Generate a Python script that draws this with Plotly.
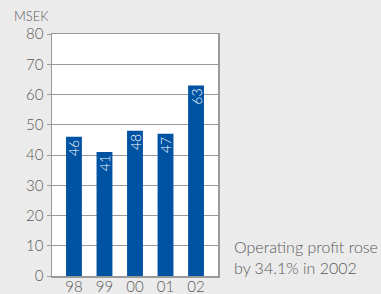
import plotly.graph_objects as go

years = ["98", "99", "00", "01", "02"]
profit = [46, 41, 48, 47, 63]
y_ticks = [0, 10, 20, 30, 40, 50, 60, 70, 80]

bar_color = "#0052a3"
grey_text = "#5a5a5a"
axis_col = "#9a9a9a"
bg = "#ebebeb"
font_fam = "Lato, 'Open Sans', sans-serif"

fig = go.Figure()
fig.add_trace(go.Bar(
    x=list(range(len(years))), y=profit,
    marker=dict(color=bar_color, line=dict(width=0)),
    width=0.52,
    text=[str(v) for v in profit],
    textposition="inside", insidetextanchor="end", textangle=-90,
    textfont=dict(color="white", size=14, family=font_fam),
    cliponaxis=False, hoverinfo="skip",
))

fig.update_layout(
    width=381, height=294,
    margin=dict(l=52, r=163, t=34, b=18, autoexpand=False),
    paper_bgcolor=bg, plot_bgcolor="white",
    showlegend=False,
    uniformtext=dict(minsize=14, mode="show"),
    font=dict(family=font_fam, color=grey_text, weight=300),
    xaxis=dict(range=[-0.72, 4.72], tickmode="array",
               tickvals=list(range(len(years))), ticktext=years,
               showgrid=False, showline=True, linecolor=axis_col, linewidth=1.5,
               mirror=True, ticks="", tickfont=dict(size=15, color=grey_text, weight=300),
               ticklabelstandoff=-4,
               zeroline=False, automargin=False),
    yaxis=dict(range=[0, 80], tickmode="array", tickvals=y_ticks,
               showgrid=True, gridcolor=axis_col, gridwidth=1,
               showline=True, linecolor=axis_col, linewidth=1.5, mirror=True,
               ticks="outside", ticklen=4, tickcolor=axis_col,
               tickfont=dict(size=15, color=grey_text, weight=300), zeroline=False,
               automargin=False),
    annotations=[
        dict(text="MSEK", xref="paper", yref="paper", x=-0.238, y=1.074,
             xanchor="left", yanchor="middle", showarrow=False,
             font=dict(size=13, color=grey_text, weight=300)),
        dict(text="Operating profit rose<br>by 34.1% in 2002", xref="paper", yref="paper",
             x=1.082, y=0.0785, xanchor="left", yanchor="middle", align="left",
             showarrow=False, font=dict(size=16, color=grey_text, weight=300)),
    ],
)

fig.write_html(
    "out.html",
    config={"displayModeBar": False, "staticPlot": True},
    post_script="document.body.style.margin='0';document.body.style.background='%s';" % bg,
)
